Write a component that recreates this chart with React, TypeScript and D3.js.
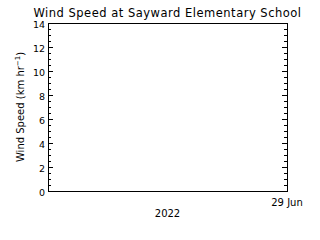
import React from "react";
import * as d3 from "d3";

const yTicks = [0, 2, 4, 6, 8, 10, 12, 14];
const yMinor = d3.range(0, 14.01, 0.5);
const xLabel = "29 Jun";
const yearLabel = "2022";
const title = "Wind Speed at Sayward Elementary School";

export default function App() {
  const W = 320, H = 240;
  const left = 48, right = 287, top = 23, bottom = 191;
  const y = d3.scaleLinear().domain([0, 14]).range([bottom, top]);
  const font = "DejaVu Sans, sans-serif";
  return (
    <svg width={W} height={H} style={{ position: "absolute", left: 0, top: 0, background: "#fff" }}>
      <rect x={0} y={0} width={W} height={H} fill="#fff" />
      <text x={167.5} y={17} textAnchor="middle" fontFamily={font} fontSize={11.5} letterSpacing={0.5} fill="#000">{title}</text>
      <rect x={left} y={top} width={right - left} height={bottom - top} fill="none" stroke="#000" strokeWidth={1} shapeRendering="crispEdges" />
      {yMinor.map((v) => {
        const major = yTicks.includes(v);
        const len = major ? 5 : 3;
        return (
          <g key={v} shapeRendering="crispEdges">
            <line x1={left} x2={left + len} y1={y(v)} y2={y(v)} stroke="#000" />
            <line x1={right} x2={right - len} y1={y(v)} y2={y(v)} stroke="#000" />
          </g>
        );
      })}
      {yTicks.map((v) => (
        <text key={v} x={left - 3} y={y(v) + 4.5} textAnchor="end" fontFamily={font} fontSize={9.5} fill="#000">{v}</text>
      ))}
      <text x={287} y={206} textAnchor="middle" fontFamily={font} fontSize={10} fill="#000">{xLabel}</text>
      <text x={167.5} y={217} textAnchor="middle" fontFamily={font} fontSize={10} fill="#000">{yearLabel}</text>
      <text transform={`translate(24,${(top + bottom) / 2}) rotate(-90)`} textAnchor="middle" fontFamily={font} fontSize={10} fill="#000">
        Wind Speed (km hr<tspan dy={-4} fontSize={7}>−1</tspan><tspan dy={4}>)</tspan>
      </text>
    </svg>
  );
}
